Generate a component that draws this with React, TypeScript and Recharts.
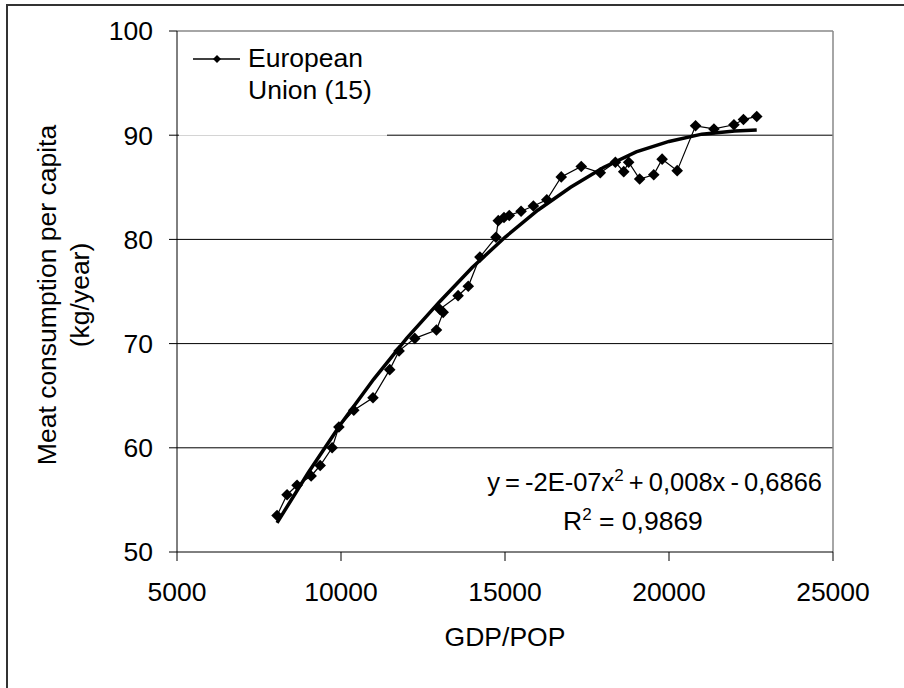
import React from "react";
import {
    ScatterChart,
    Scatter,
    XAxis,
    YAxis,
    CartesianGrid,
    ReferenceLine,
    Legend
} from "recharts";

// GDP per capita and meat consumption (kg/year), EU-15
const gdpPerCapita = [
    8050, 8355, 8660, 9090, 9365, 9730, 9935, 10390, 10975, 11485,
    11770, 12250, 12910, 13115, 13010, 13570, 13880, 14235, 14725, 14795,
    14970, 15130, 15490, 15865, 16275, 16715, 17325, 17905, 18365, 18620,
    18770, 19105, 19535, 19790, 20250, 20810, 21370, 21980, 22270, 22675
];
const meatConsumption = [
    53.5, 55.5, 56.4, 57.3, 58.3, 60.0, 62.0, 63.6, 64.8, 67.5,
    69.3, 70.5, 71.3, 73.0, 73.3, 74.6, 75.5, 78.3, 80.2, 81.8,
    82.1, 82.3, 82.7, 83.2, 83.8, 86.0, 87.0, 86.4, 87.4, 86.5,
    87.4, 85.8, 86.2, 87.7, 86.6, 90.9, 90.6, 91.0, 91.5, 91.8
];

// polynomial trend line as drawn
const trendX = [8050, 9000, 10000, 11000, 12000, 13000, 14000, 15000, 16000, 17000, 18000, 19000, 20000, 21000, 22000, 22675];
const trendY = [52.8, 57.6, 62.3, 66.6, 70.5, 74.0, 77.3, 80.2, 82.8, 85.0, 86.9, 88.4, 89.4, 90.1, 90.4, 90.5];

const xTicks = [5000, 10000, 15000, 20000, 25000];
const yTicks = [50, 60, 70, 80, 90, 100];
const gridValues = [60, 70, 80, 90];

const seriesName = "European Union (15)";

const euData = gdpPerCapita.map((x, i) => ({ x, y: meatConsumption[i] }));
const trendData = trendX.map((x, i) => ({ x, y: trendY[i] }));

const FONT = "'Liberation Sans', Arial, sans-serif";
const FS = 26.5;

const Diamond = (props: any) => {
    const { cx, cy } = props;
    const r = 5.8;
    return <path d={`M${cx},${cy - r}L${cx + r},${cy}L${cx},${cy + r}L${cx - r},${cy}Z`} fill="#000" />;
};

const NoDot = () => <g />;

const LegendBox = () => (
    <div style={{ width: 208, height: 103, background: "#fff", borderBottom: "1px solid #d4d4d4", position: "relative", fontFamily: FONT }}>
        <svg width={50} height={12} style={{ position: "absolute", left: 14, top: 21 }}>
            <line x1={0} y1={6} x2={47} y2={6} stroke="#000" strokeWidth={1.5} />
            <path d="M24,2L28,6L24,10L20,6Z" fill="#000" />
        </svg>
        <div style={{ position: "absolute", left: 69, top: 10, fontSize: FS, lineHeight: "32px", color: "#000" }}>
            European<br />Union (15)
        </div>
    </div>
);

const supStyle = { fontSize: 17, verticalAlign: "10px", lineHeight: 0 };

export default function App() {
    return (
        <div style={{ position: "absolute", left: 0, top: 0, width: 904, height: 688, background: "#fff", fontFamily: FONT, overflow: "hidden" }}>
            <div style={{ position: "absolute", left: 6, top: 4, width: 1000, height: 1000, borderLeft: "2px solid #333", borderTop: "2px solid #333" }} />
            <ScatterChart width={904} height={688} margin={{ top: 31, right: 71, bottom: 76, left: 117 }}>
                <CartesianGrid horizontal vertical={false} horizontalValues={gridValues} stroke="#000" strokeWidth={1} />
                <ReferenceLine y={100} stroke="#888" strokeWidth={1.5} />
                <ReferenceLine x={25000} stroke="#888" strokeWidth={1.5} />
                <XAxis
                    type="number"
                    dataKey="x"
                    domain={[5000, 25000]}
                    ticks={xTicks}
                    interval={0}
                    height={60}
                    tickSize={9}
                    tickMargin={21}
                    axisLine={{ stroke: "#000" }}
                    tickLine={{ stroke: "#000" }}
                    tick={{ fill: "#000", fontSize: FS, fontFamily: FONT }}
                />
                <YAxis
                    type="number"
                    dataKey="y"
                    domain={[50, 100]}
                    ticks={yTicks}
                    interval={0}
                    width={60}
                    tickSize={8}
                    tickMargin={16}
                    axisLine={{ stroke: "#000" }}
                    tickLine={{ stroke: "#000" }}
                    tick={{ fill: "#000", fontSize: FS, fontFamily: FONT }}
                />
                <Legend
                    layout="vertical"
                    align="center"
                    verticalAlign="middle"
                    content={() => <LegendBox />}
                    wrapperStyle={{ position: "absolute", left: 179, top: 32, width: 208 }}
                />
                <Scatter
                    name={seriesName}
                    data={trendData}
                    line={{ stroke: "#000", strokeWidth: 3.5 }}
                    lineType="joint"
                    shape={NoDot}
                    legendType="none"
                    isAnimationActive={false}
                />
                <Scatter
                    name={seriesName}
                    data={euData}
                    fill="#000"
                    line={{ stroke: "#000", strokeWidth: 1.2 }}
                    lineType="joint"
                    shape={Diamond}
                    isAnimationActive={false}
                />
            </ScatterChart>

            {/* y axis title, two lines */}
            <div style={{ position: "absolute", left: 64, top: 295, transform: "translate(-50%, -50%) rotate(-90deg)", whiteSpace: "nowrap", textAlign: "center", fontSize: FS, lineHeight: "33px", color: "#000" }}>
                Meat consumption per capita<br />(kg/year)
            </div>

            {/* x axis title */}
            <div style={{ position: "absolute", left: 505, top: 637, transform: "translate(-50%, -50%)", whiteSpace: "nowrap", fontSize: FS, color: "#000" }}>
                GDP/POP
            </div>

            {/* trend equation */}
            <div style={{ position: "absolute", right: 904 - 822, top: 467, whiteSpace: "nowrap", fontSize: 25.5, color: "#000", lineHeight: "30px", wordSpacing: -2 }}>
                y = -2E-07x<sup style={supStyle}>2</sup> + 0,008x - 0,6866
            </div>
            <div style={{ position: "absolute", left: 563, top: 506, whiteSpace: "nowrap", fontSize: FS, color: "#000", lineHeight: "30px" }}>
                R<sup style={supStyle}>2</sup> = 0,9869
            </div>
        </div>
    );
}
